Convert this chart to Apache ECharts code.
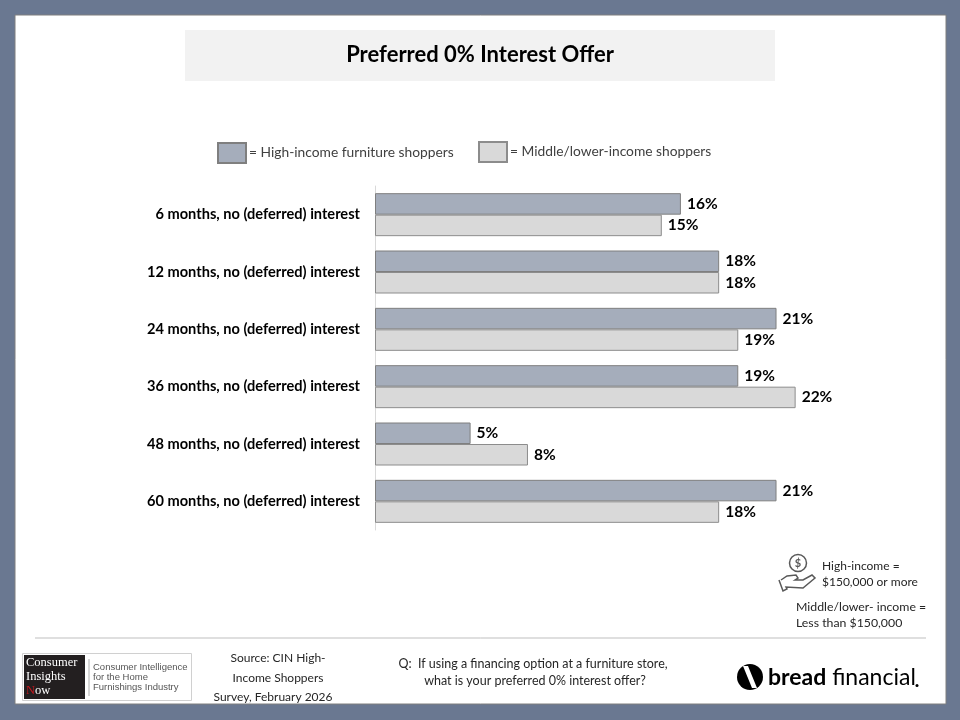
<!DOCTYPE html>
<html>
<head>
<meta charset="utf-8">
<script src="https://cdn.jsdelivr.net/npm/echarts@6/dist/echarts.min.js"></script>
<style>
html,body{margin:0;padding:0;background:#6a7891;}
#chart{width:960px;height:720px;}
</style>
</head>
<body>
<div id="chart"></div>
<script>
const categories = [
  '6 months, no (deferred) interest',
  '12 months, no (deferred) interest',
  '24 months, no (deferred) interest',
  '36 months, no (deferred) interest',
  '48 months, no (deferred) interest',
  '60 months, no (deferred) interest'
];
const seriesNames = ['High-income furniture shoppers', 'Middle/lower-income shoppers'];
const highIncome = [16, 18, 21, 19, 5, 21];
const middleLower = [15, 18, 19, 22, 8, 18];

const FONT = 'Lato, "Open Sans", sans-serif';
const chart = echarts.init(document.getElementById('chart'), null, {renderer: 'canvas'});

const barLabel = {
  show: true, position: 'right', distance: 6,
  formatter: p => p.value + '%',
  color: '#000', fontWeight: 'bold', fontSize: 15.5, fontFamily: FONT
};

const option = {
  backgroundColor: '#6a7891',
  animation: false,
  graphic: [
    // white panel
    {type: 'rect', z: -10, shape: {x: 15, y: 15, width: 931, height: 689}, style: {fill: '#ffffff', stroke: '#7f7f7f', lineWidth: 1}},
    // title box
    {type: 'rect', z: -5, shape: {x: 185, y: 30, width: 590, height: 51}, style: {fill: '#f2f2f2'}},
    {type: 'text', x: 480, y: 55, style: {text: 'Preferred 0% Interest Offer', fill: '#000', font: 'bold 22px ' + FONT, align: 'center', verticalAlign: 'middle'}},
    // income icon
    {type: 'circle', shape: {cx: 798, cy: 563, r: 8.5}, style: {fill: 'none', stroke: '#595959', lineWidth: 1.5}},
    {type: 'text', x: 798, y: 563, style: {text: '$', fill: '#595959', font: 'bold 11px ' + FONT, align: 'center', verticalAlign: 'middle'}},
    {type: 'polyline', shape: {points: [[779, 580], [783, 591], [787, 589], [786, 587], [803, 588], [815, 578], [812, 575], [803, 580], [795, 580], [798, 578], [796, 575], [787, 576], [781, 580]]}, style: {fill: 'none', stroke: '#595959', lineWidth: 1.5}},
    {type: 'text', x: 822, y: 566, style: {text: 'High-income =', fill: '#262626', font: '12px ' + FONT, verticalAlign: 'middle'}},
    {type: 'text', x: 822, y: 582, style: {text: '$150,000 or more', fill: '#262626', font: '12px ' + FONT, verticalAlign: 'middle'}},
    {type: 'text', x: 796, y: 607, style: {text: 'Middle/lower- income =', fill: '#262626', font: '12.3px ' + FONT, verticalAlign: 'middle'}},
    {type: 'text', x: 796, y: 623, style: {text: 'Less than $150,000', fill: '#262626', font: '12.3px ' + FONT, verticalAlign: 'middle'}},
    // separator
    {type: 'line', shape: {x1: 35, y1: 638, x2: 926, y2: 638}, style: {stroke: '#bfbfbf', lineWidth: 1}},
    // CIN logo
    {type: 'rect', shape: {x: 22.5, y: 653.5, width: 169, height: 47}, style: {fill: '#fff', stroke: '#d0d0d0', lineWidth: 1}},
    {type: 'rect', shape: {x: 24, y: 655, width: 61, height: 44}, style: {fill: '#231f20'}},
    {type: 'line', shape: {x1: 89, y1: 659, x2: 89, y2: 696}, style: {stroke: '#9a9a9a', lineWidth: 0.8}},
    {type: 'text', x: 26, y: 663, style: {text: 'Consumer', fill: '#fff', font: '12.5px "Liberation Serif", serif', verticalAlign: 'middle'}},
    {type: 'text', x: 26, y: 677, style: {text: 'Insights', fill: '#fff', font: '12.5px "Liberation Serif", serif', verticalAlign: 'middle'}},
    {type: 'text', x: 26, y: 691, style: {text: '{r|N}ow', font: '12.5px "Liberation Serif", serif', fill: '#fff', verticalAlign: 'middle', rich: {r: {fill: '#c4161c', font: '12.5px "Liberation Serif", serif'}}}},
    {type: 'text', x: 93, y: 667, style: {text: 'Consumer Intelligence', fill: '#555', font: '9.5px "Liberation Sans", Arial, sans-serif', verticalAlign: 'middle'}},
    {type: 'text', x: 93, y: 677, style: {text: 'for the Home', fill: '#555', font: '9.5px "Liberation Sans", Arial, sans-serif', verticalAlign: 'middle'}},
    {type: 'text', x: 93, y: 687, style: {text: 'Furnishings Industry', fill: '#555', font: '9.5px "Liberation Sans", Arial, sans-serif', verticalAlign: 'middle'}},
    // source
    {type: 'text', x: 278, y: 658, style: {text: 'Source: CIN High-', fill: '#262626', font: '12px ' + FONT, align: 'center', verticalAlign: 'middle'}},
    {type: 'text', x: 278, y: 678, style: {text: 'Income Shoppers', fill: '#262626', font: '12px ' + FONT, align: 'center', verticalAlign: 'middle'}},
    {type: 'text', x: 273, y: 697, style: {text: 'Survey, February 2026', fill: '#262626', font: '12px ' + FONT, align: 'center', verticalAlign: 'middle'}},
    // question
    {type: 'text', x: 533, y: 664, style: {text: 'Q:  If using a financing option at a furniture store,', fill: '#262626', font: '12.5px ' + FONT, align: 'center', verticalAlign: 'middle'}},
    {type: 'text', x: 535, y: 681, style: {text: 'what is your preferred 0% interest offer?', fill: '#262626', font: '12.5px ' + FONT, align: 'center', verticalAlign: 'middle'}},
    // bread financial logo
    {type: 'circle', shape: {cx: 750, cy: 677, r: 13}, style: {fill: '#000'}},
    {type: 'polygon', shape: {points: [[743, 666], [748, 666], [757, 688], [752, 688]]}, style: {fill: '#fff'}},
    {type: 'text', x: 768, y: 678, style: {text: '{b|bread} financial', font: '23px ' + FONT, fill: '#000', verticalAlign: 'middle', rich: {b: {font: 'bold 23px ' + FONT, fill: '#000'}}}},
    {type: 'circle', shape: {cx: 917, cy: 685.5, r: 1.5}, style: {fill: '#000'}}
  ],
  legend: [
    {
      left: 217, top: 142, padding: 0, itemWidth: 28, itemHeight: 20,
      data: [seriesNames[0]], formatter: '= {name}', icon: 'rect',
      textStyle: {color: '#404040', fontSize: 13.8, fontFamily: FONT, padding: [0, 0, 0, -2]}
    },
    {
      left: 478, top: 141, padding: 0, itemWidth: 28, itemHeight: 20,
      data: [seriesNames[1]], formatter: '= {name}', icon: 'rect',
      textStyle: {color: '#404040', fontSize: 13.8, fontFamily: FONT, padding: [0, 0, 0, -2]}
    }
  ],
  grid: {left: 375, top: 186, width: 478, height: 344, containLabel: false},
  xAxis: {
    type: 'value', min: 0, max: 25, show: false,
    splitLine: {show: false}
  },
  yAxis: {
    type: 'category', data: categories, inverse: true,
    axisLine: {show: true, lineStyle: {color: '#d9d9d9', width: 1}},
    axisTick: {show: false},
    axisLabel: {color: '#000', fontWeight: 'bold', fontSize: 14.6, fontFamily: FONT, margin: 15}
  },
  series: [
    {
      name: seriesNames[0], type: 'bar', data: highIncome,
      barGap: '0%', barCategoryGap: '25%',
      itemStyle: {color: '#a5adbb', borderColor: '#7f7f7f', borderWidth: 1},
      label: barLabel
    },
    {
      name: seriesNames[1], type: 'bar', data: middleLower,
      itemStyle: {color: '#d9d9d9', borderColor: '#8c8c8c', borderWidth: 1},
      label: barLabel
    }
  ]
};
chart.setOption(option);
</script>
</body>
</html>
